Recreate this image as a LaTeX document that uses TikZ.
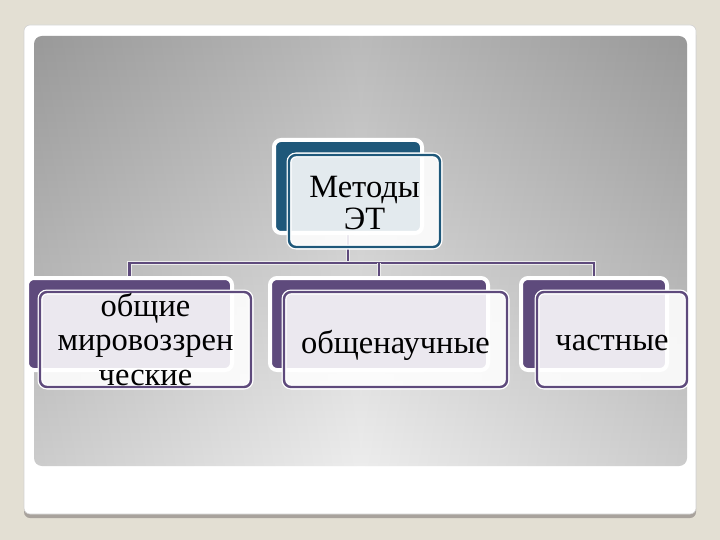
\documentclass[tikz,border=0pt]{standalone}
\usepackage{fontspec}
\setmainfont{Liberation Serif}
\usetikzlibrary{calc}
\definecolor{bgbeige}{RGB}{227,223,211}
\definecolor{topblue}{RGB}{31,88,122}
\definecolor{purp}{RGB}{94,74,124}
\definecolor{shadowgray}{RGB}{168,162,156}
\definecolor{panelTop}{RGB}{176,176,176}
\definecolor{panelBot}{RGB}{234,234,234}
\pgfdeclarelayer{bg}\pgfdeclarelayer{conn}\pgfsetlayers{bg,conn,main}
\tikzset{
  backbox/.style={rectangle, rounded corners=7pt, draw=white, line width=4pt, inner sep=0pt},
  frontbox/.style={rectangle, rounded corners=7pt, draw=white, line width=1.3pt,
     double distance=2.4pt, fill=white, fill opacity=0.88, text opacity=1,
     inner sep=0pt, align=center, font=\fontsize{32.5}{34.5}\selectfont, text=black},
  conn/.style={draw=white!85!gray, double=purp, double distance=2.8pt, line width=0.7pt},
}
\begin{document}
\begin{tikzpicture}[x=1pt,y=-1pt]
\useasboundingbox (0,0) rectangle (720,540);
\begin{pgfonlayer}{bg}
  \fill[bgbeige] (0,0) rectangle (720,540);
  \fill[shadowgray, rounded corners=6pt] (24,29) rectangle (696,518);
  \fill[white, rounded corners=6pt, draw=gray!35, line width=0.6pt] (24,25) rectangle (696,514);
  \shade[top color=panelTop, bottom color=panelBot, rounded corners=8pt] (34,36) rectangle (687,466);
  \shade[left color=black, right color=black, middle color=white, fill opacity=0.13, rounded corners=8pt] (34,36) rectangle (687,466);
\end{pgfonlayer}

% top node
\node[backbox, fill=topblue, minimum width=148pt, minimum height=93pt] (m0) at (348,186.5) {};
\node[frontbox, double=topblue, minimum width=151pt, minimum height=92pt,
      font=\fontsize{32.5}{32}\selectfont] (m) at (364.5,201) {\raisebox{-2pt}[\height][\depth]{Методы}\\\raisebox{-2pt}[\height][\depth]{ЭТ}};

% children
\node[backbox, fill=purp, minimum width=205pt, minimum height=92pt] (a0) at (129.5,324) {};
\node[frontbox, double=purp, minimum width=211pt, minimum height=95pt] (a) at (145.5,339.5) {общие\\мировоззрен\\ческие};

\node[backbox, fill=purp, minimum width=218pt, minimum height=92pt] (b0) at (379,324) {};
\node[frontbox, double=purp, minimum width=223pt, minimum height=95pt] (b) at (395.5,339.5) {\raisebox{-6pt}[\height][\depth]{общенаучные}};

\node[backbox, fill=purp, minimum width=146pt, minimum height=92pt] (c0) at (594,324) {};
\node[frontbox, double=purp, minimum width=150pt, minimum height=95pt] (c) at (612,339.5) {\raisebox{-4pt}[\height][\depth]{частные}};

\coordinate (j) at (348,263);
\begin{pgfonlayer}{conn}
  \draw[conn] (m0.south) -- (j);
  \draw[conn] (a0.north) -- (a0.north |- j) -- (c0.north |- j) -- (c0.north);
  \draw[conn] (b0.north |- j) -- (b0.north);
\end{pgfonlayer}
\end{tikzpicture}
\end{document}
